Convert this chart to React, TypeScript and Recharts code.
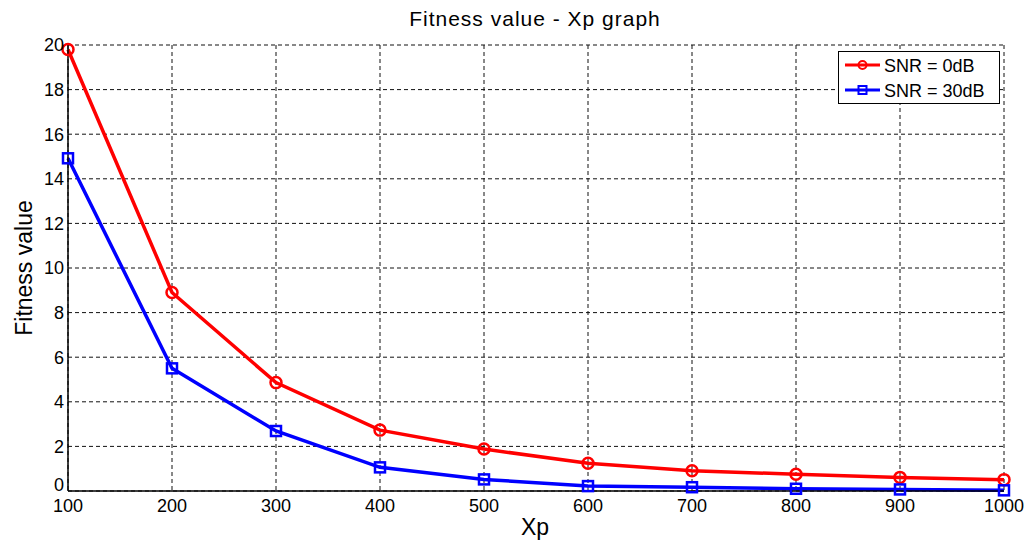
import { LineChart, Line, XAxis, YAxis, CartesianGrid } from 'recharts';

const xpValues = [100, 200, 300, 400, 500, 600, 700, 800, 900, 1000];
const snr0 = [19.8, 8.9, 4.86, 2.73, 1.88, 1.24, 0.91, 0.75, 0.61, 0.51];
const snr30 = [14.92, 5.5, 2.69, 1.06, 0.52, 0.22, 0.17, 0.1, 0.07, 0.03];
const xTicks = [100, 200, 300, 400, 500, 600, 700, 800, 900, 1000];
const yTicks = [0, 2, 4, 6, 8, 10, 12, 14, 16, 18, 20];

const data = xpValues.map((xp, i) => ({ xp, snr0: snr0[i], snr30: snr30[i] }));

const font = '"Liberation Sans", Arial, sans-serif';

const CircleDot = (props: any) => {
  const { cx, cy } = props;
  if (cx == null || cy == null) return null;
  return <circle cx={cx} cy={cy} r={5.5} fill="none" stroke="#ff0000" strokeWidth={2.5} />;
};

const SquareDot = (props: any) => {
  const { cx, cy } = props;
  if (cx == null || cy == null) return null;
  return <rect x={cx - 5} y={cy - 5} width={10} height={10} fill="none" stroke="#0000ff" strokeWidth={2.5} />;
};

// y tick: nudge the "0" label up so it doesn't run into the "100" below
const YTick = (props: any) => {
  const { x, y, payload } = props;
  const shift = payload.value === 0 ? -6 : 0;
  return (
    <text x={x} y={y + shift} dy="0.355em" textAnchor="end" fontSize={18} fontFamily={font} fill="#000">
      {payload.value}
    </text>
  );
};

// legend drawn as an overlay so it doesn't take space from the plot
const LegendBox = () => (
  <svg width={162} height={53} style={{ display: 'block' }}>
    <rect x={0.5} y={0.5} width={161} height={52} fill="#fff" stroke="#000" strokeWidth={1} />
    <line x1={7} y1={14} x2={42} y2={14} stroke="#ff0000" strokeWidth={3} />
    <circle cx={24.5} cy={14} r={4} fill="none" stroke="#ff0000" strokeWidth={2} />
    <text x={46} y={20.5} fontSize={18} fontFamily={font} fill="#000">SNR = 0dB</text>
    <line x1={7} y1={39} x2={42} y2={39} stroke="#0000ff" strokeWidth={3} />
    <rect x={20.5} y={35} width={8} height={8} fill="none" stroke="#0000ff" strokeWidth={2} />
    <text x={46} y={45.5} fontSize={18} fontFamily={font} fill="#000">SNR = 30dB</text>
  </svg>
);

export default function App() {
  return (
    <div style={{ position: 'absolute', left: 0, top: 0, width: 1028, height: 540, background: '#fff', fontFamily: font }}>
      <LineChart width={1028} height={540} data={data} margin={{ top: 45, right: 24, bottom: 19, left: 18 }}>
        <CartesianGrid stroke="#111" strokeDasharray="4 3" strokeWidth={1} />
        <XAxis
          dataKey="xp"
          type="number"
          domain={[100, 1000]}
          ticks={xTicks}
          height={30}
          stroke="#000"
          strokeWidth={1.5}
          tickSize={0}
          tickMargin={8}
          tick={{ fill: '#000', fontSize: 18, fontFamily: font }}
        />
        <XAxis
          xAxisId="top"
          dataKey="xp"
          type="number"
          domain={[100, 1000]}
          orientation="top"
          height={0}
          tick={false}
          tickLine={false}
          stroke="#000"
          strokeWidth={1.5}
        />
        <YAxis
          domain={[0, 20]}
          ticks={yTicks}
          width={50}
          stroke="#000"
          strokeWidth={1.5}
          tickSize={0}
          tickMargin={4}
          tick={<YTick />}
        />
        <YAxis
          yAxisId="right"
          orientation="right"
          domain={[0, 20]}
          width={0}
          tick={false}
          tickLine={false}
          stroke="#000"
          strokeWidth={1.5}
        />
        <Line
          type="linear"
          dataKey="snr0"
          name="SNR = 0dB"
          stroke="#ff0000"
          strokeWidth={3.5}
          dot={<CircleDot />}
          activeDot={false}
          isAnimationActive={false}
        />
        <Line
          type="linear"
          dataKey="snr30"
          name="SNR = 30dB"
          stroke="#0000ff"
          strokeWidth={3.5}
          dot={<SquareDot />}
          activeDot={false}
          isAnimationActive={false}
        />
      </LineChart>
      <div
        style={{
          position: 'absolute',
          left: 535,
          top: 19,
          transform: 'translate(-50%, -50%)',
          fontSize: 21,
          letterSpacing: 1,
          whiteSpace: 'nowrap',
        }}
      >
        Fitness value - Xp graph
      </div>
      <div
        style={{
          position: 'absolute',
          left: 24,
          top: 268,
          transform: 'translate(-50%, -50%) rotate(-90deg)',
          fontSize: 23,
          whiteSpace: 'nowrap',
        }}
      >
        Fitness value
      </div>
      <div style={{ position: 'absolute', left: 535, top: 527, transform: 'translate(-50%, -50%)', fontSize: 23 }}>
        Xp
      </div>
      <div style={{ position: 'absolute', left: 838, top: 51 }}>
        <LegendBox />
      </div>
    </div>
  );
}
